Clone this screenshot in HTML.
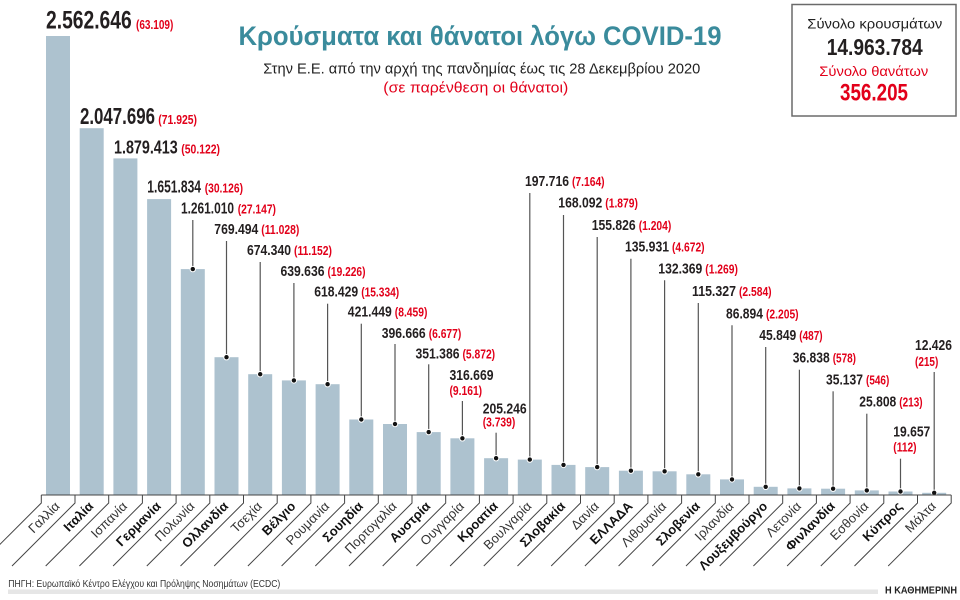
<!DOCTYPE html>
<html><head><meta charset="utf-8"><style>
html,body{margin:0;padding:0;background:#fff;}
svg{display:block;}
.n{font-family:"Liberation Sans Narrow","Liberation Sans",sans-serif;font-weight:bold;fill:#231f20;}
.r{font-family:"Liberation Sans Narrow","Liberation Sans",sans-serif;font-weight:bold;fill:#e2001a;}
.xl{font-family:"Liberation Sans","DejaVu Sans",sans-serif;font-size:13px;fill:#333;}
.xb{font-family:"Liberation Sans","DejaVu Sans",sans-serif;font-size:13px;font-weight:bold;fill:#111;}
</style></head><body>
<svg width="960" height="600" viewBox="0 0 960 600" xmlns="http://www.w3.org/2000/svg">
<rect width="960" height="600" fill="#fff"/>

<!-- Title -->
<text x="238.5" y="45" font-family="Liberation Sans, sans-serif" font-weight="bold" font-size="27" fill="#3a8b9c" textLength="483" lengthAdjust="spacingAndGlyphs">Κρούσματα και θάνατοι λόγω COVID-19</text>
<text x="263.3" y="73.3" font-family="Liberation Sans, sans-serif" font-size="15" fill="#222" textLength="437" lengthAdjust="spacingAndGlyphs">Στην Ε.Ε. από την αρχή της πανδημίας έως τις 28 Δεκεμβρίου 2020</text>
<text x="383.3" y="92.3" font-family="Liberation Sans, sans-serif" font-size="15" fill="#e2001a" textLength="185" lengthAdjust="spacingAndGlyphs">(σε παρένθεση οι θάνατοι)</text>

<!-- Totals box -->
<rect x="792" y="4.5" width="164" height="111.5" fill="#fff" stroke="#6a6a6a" stroke-width="1.5"/>
<text x="807.3" y="28.5" font-family="Liberation Sans, sans-serif" font-size="14" fill="#222" textLength="135" lengthAdjust="spacingAndGlyphs">Σύνολο κρουσμάτων</text>
<text class="n" x="826.7" y="55" font-size="23" textLength="96" lengthAdjust="spacingAndGlyphs">14.963.784</text>
<text x="819.3" y="76" font-family="Liberation Sans, sans-serif" font-size="14" fill="#e2001a" textLength="109" lengthAdjust="spacingAndGlyphs">Σύνολο θανάτων</text>
<text class="r" x="840" y="100.7" font-size="24" textLength="68" lengthAdjust="spacingAndGlyphs">356.205</text>

<!-- Bars -->
<g fill="#adc2cf">
<rect x="46" y="36" width="24" height="458.5"/>
<rect x="79.7" y="128.2" width="24" height="366.3"/>
<rect x="113.4" y="158.4" width="24" height="336.1"/>
<rect x="147.1" y="199.1" width="24" height="295.4"/>
<rect x="180.8" y="269.1" width="24" height="225.4"/>
<rect x="214.5" y="357.2" width="24" height="137.3"/>
<rect x="248.2" y="374.2" width="24" height="120.3"/>
<rect x="281.9" y="380.4" width="24" height="114.1"/>
<rect x="315.6" y="384.2" width="24" height="110.3"/>
<rect x="349.3" y="419.5" width="24" height="75"/>
<rect x="383" y="424" width="24" height="70.5"/>
<rect x="416.7" y="432.1" width="24" height="62.4"/>
<rect x="450.4" y="438.3" width="24" height="56.2"/>
<rect x="484.1" y="458.2" width="24" height="36.3"/>
<rect x="517.8" y="459.6" width="24" height="34.9"/>
<rect x="551.5" y="464.9" width="24" height="29.6"/>
<rect x="585.2" y="467.1" width="24" height="27.4"/>
<rect x="618.9" y="470.7" width="24" height="23.8"/>
<rect x="652.6" y="471.3" width="24" height="23.2"/>
<rect x="686.3" y="474.3" width="24" height="20.2"/>
<rect x="720" y="479.4" width="24" height="15.1"/>
<rect x="753.7" y="486.8" width="24" height="7.7"/>
<rect x="787.4" y="488.4" width="24" height="6.1"/>
<rect x="821.1" y="488.7" width="24" height="5.8"/>
<rect x="854.8" y="490.4" width="24" height="4.1"/>
<rect x="888.5" y="491.5" width="24" height="3"/>
<rect x="922.2" y="492.8" width="24" height="1.7"/>
</g>

<!-- Leader lines -->
<g stroke="#555" stroke-width="1.2">
<line x1="192.8" y1="220" x2="192.8" y2="269.1"/>
<line x1="226.5" y1="241" x2="226.5" y2="357.2"/>
<line x1="260.2" y1="262" x2="260.2" y2="374.2"/>
<line x1="293.9" y1="283" x2="293.9" y2="380.4"/>
<line x1="327.6" y1="303.7" x2="327.6" y2="384.2"/>
<line x1="361.3" y1="323.7" x2="361.3" y2="419.5"/>
<line x1="395" y1="344" x2="395" y2="424"/>
<line x1="428.7" y1="364.3" x2="428.7" y2="432.1"/>
<line x1="462.4" y1="401" x2="462.4" y2="438.3"/>
<line x1="496.1" y1="432.7" x2="496.1" y2="458.2"/>
<line x1="529.8" y1="193" x2="529.8" y2="459.6"/>
<line x1="563.5" y1="215" x2="563.5" y2="464.9"/>
<line x1="597.2" y1="237" x2="597.2" y2="467.1"/>
<line x1="630.9" y1="258.7" x2="630.9" y2="470.7"/>
<line x1="664.6" y1="280.3" x2="664.6" y2="471.3"/>
<line x1="698.3" y1="303" x2="698.3" y2="474.3"/>
<line x1="732" y1="325.3" x2="732" y2="479.4"/>
<line x1="765.7" y1="347" x2="765.7" y2="486.8"/>
<line x1="799.4" y1="369.7" x2="799.4" y2="488.4"/>
<line x1="833.1" y1="391.3" x2="833.1" y2="488.7"/>
<line x1="866.8" y1="413.7" x2="866.8" y2="490.4"/>
<line x1="900.5" y1="458.7" x2="900.5" y2="491.5"/>
<line x1="934.2" y1="372" x2="934.2" y2="492.8"/>
</g>
<g fill="#111" stroke="#fff" stroke-width="1">
<circle cx="192.8" cy="269.1" r="2.7"/>
<circle cx="226.5" cy="357.2" r="2.7"/>
<circle cx="260.2" cy="374.2" r="2.7"/>
<circle cx="293.9" cy="380.4" r="2.7"/>
<circle cx="327.6" cy="384.2" r="2.7"/>
<circle cx="361.3" cy="419.5" r="2.7"/>
<circle cx="395" cy="424" r="2.7"/>
<circle cx="428.7" cy="432.1" r="2.7"/>
<circle cx="462.4" cy="438.3" r="2.7"/>
<circle cx="496.1" cy="458.2" r="2.7"/>
<circle cx="529.8" cy="459.6" r="2.7"/>
<circle cx="563.5" cy="464.9" r="2.7"/>
<circle cx="597.2" cy="467.1" r="2.7"/>
<circle cx="630.9" cy="470.7" r="2.7"/>
<circle cx="664.6" cy="471.3" r="2.7"/>
<circle cx="698.3" cy="474.3" r="2.7"/>
<circle cx="732" cy="479.4" r="2.7"/>
<circle cx="765.7" cy="486.8" r="2.7"/>
<circle cx="799.4" cy="488.4" r="2.7"/>
<circle cx="833.1" cy="488.7" r="2.7"/>
<circle cx="866.8" cy="490.4" r="2.7"/>
<circle cx="900.5" cy="491.5" r="2.7"/>
<circle cx="934.2" cy="492.8" r="2.7"/>
</g>

<!-- Value labels -->
<text class="n" x="46" y="28.5" font-size="25" textLength="85.7" lengthAdjust="spacingAndGlyphs">2.562.646</text>
<text class="r" x="136" y="29" font-size="13" textLength="37.3" lengthAdjust="spacingAndGlyphs">(63.109)</text>
<text class="n" x="80" y="124" font-size="23" textLength="75" lengthAdjust="spacingAndGlyphs">2.047.696</text>
<text class="r" x="158.3" y="124" font-size="13" textLength="38.7" lengthAdjust="spacingAndGlyphs">(71.925)</text>
<text class="n" x="114" y="153.3" font-size="18.5" textLength="63.7" lengthAdjust="spacingAndGlyphs">1.879.413</text>
<text class="r" x="181.3" y="153.3" font-size="13" textLength="38.7" lengthAdjust="spacingAndGlyphs">(50.122)</text>
<text class="n" x="147.3" y="192.7" font-size="17.5" textLength="53.7" lengthAdjust="spacingAndGlyphs">1.651.834</text>
<text class="r" x="204.7" y="192.7" font-size="13" textLength="38.3" lengthAdjust="spacingAndGlyphs">(30.126)</text>
<text class="n" x="181" y="213.3" font-size="16" textLength="53" lengthAdjust="spacingAndGlyphs">1.261.010</text>
<text class="r" x="237.7" y="213.3" font-size="12.5" textLength="38.3" lengthAdjust="spacingAndGlyphs">(27.147)</text>

<g font-size="15">
<text class="n" x="214.3" y="234" textLength="44" lengthAdjust="spacingAndGlyphs">769.494</text>
<text class="n" x="247" y="255" textLength="44" lengthAdjust="spacingAndGlyphs">674.340</text>
<text class="n" x="280.5" y="276" textLength="44" lengthAdjust="spacingAndGlyphs">639.636</text>
<text class="n" x="314.2" y="296.7" textLength="44" lengthAdjust="spacingAndGlyphs">618.429</text>
<text class="n" x="347.8" y="316.7" textLength="44" lengthAdjust="spacingAndGlyphs">421.449</text>
<text class="n" x="381.7" y="338" textLength="44" lengthAdjust="spacingAndGlyphs">396.666</text>
<text class="n" x="415.5" y="358.3" textLength="44" lengthAdjust="spacingAndGlyphs">351.386</text>
<text class="n" x="449.5" y="380" textLength="44" lengthAdjust="spacingAndGlyphs">316.669</text>
<text class="n" x="482.7" y="413.3" textLength="44" lengthAdjust="spacingAndGlyphs">205.246</text>
<text class="n" x="525" y="186" textLength="44" lengthAdjust="spacingAndGlyphs">197.716</text>
<text class="n" x="558.3" y="207.7" textLength="44" lengthAdjust="spacingAndGlyphs">168.092</text>
<text class="n" x="591.7" y="230" textLength="44" lengthAdjust="spacingAndGlyphs">155.826</text>
<text class="n" x="625" y="251.7" textLength="44" lengthAdjust="spacingAndGlyphs">135.931</text>
<text class="n" x="658.3" y="273.3" textLength="44" lengthAdjust="spacingAndGlyphs">132.369</text>
<text class="n" x="692" y="296" textLength="44" lengthAdjust="spacingAndGlyphs">115.327</text>
<text class="n" x="726" y="318.3" textLength="37" lengthAdjust="spacingAndGlyphs">86.894</text>
<text class="n" x="759.3" y="340" textLength="37" lengthAdjust="spacingAndGlyphs">45.849</text>
<text class="n" x="792.7" y="362.7" textLength="37" lengthAdjust="spacingAndGlyphs">36.838</text>
<text class="n" x="826" y="384.3" textLength="37" lengthAdjust="spacingAndGlyphs">35.137</text>
<text class="n" x="859.3" y="406.7" textLength="37" lengthAdjust="spacingAndGlyphs">25.808</text>
<text class="n" x="893.3" y="436.7" textLength="37" lengthAdjust="spacingAndGlyphs">19.657</text>
<text class="n" x="915" y="350" textLength="37" lengthAdjust="spacingAndGlyphs">12.426</text>
</g>
<g font-size="12.5">
<text class="r" x="261.3" y="234" textLength="38" lengthAdjust="spacingAndGlyphs">(11.028)</text>
<text class="r" x="294" y="255" textLength="38" lengthAdjust="spacingAndGlyphs">(11.152)</text>
<text class="r" x="327.5" y="276" textLength="38" lengthAdjust="spacingAndGlyphs">(19.226)</text>
<text class="r" x="361.2" y="296.7" textLength="38" lengthAdjust="spacingAndGlyphs">(15.334)</text>
<text class="r" x="394.8" y="316.7" textLength="32.6" lengthAdjust="spacingAndGlyphs">(8.459)</text>
<text class="r" x="428.7" y="338" textLength="32.6" lengthAdjust="spacingAndGlyphs">(6.677)</text>
<text class="r" x="462.5" y="358.3" textLength="32.6" lengthAdjust="spacingAndGlyphs">(5.872)</text>
<text class="r" x="449.5" y="395" textLength="32.6" lengthAdjust="spacingAndGlyphs">(9.161)</text>
<text class="r" x="482.7" y="426.7" textLength="32.6" lengthAdjust="spacingAndGlyphs">(3.739)</text>
<text class="r" x="572" y="186" textLength="32.6" lengthAdjust="spacingAndGlyphs">(7.164)</text>
<text class="r" x="605.3" y="207.7" textLength="32.6" lengthAdjust="spacingAndGlyphs">(1.879)</text>
<text class="r" x="638.7" y="230" textLength="32.6" lengthAdjust="spacingAndGlyphs">(1.204)</text>
<text class="r" x="672" y="251.7" textLength="32.6" lengthAdjust="spacingAndGlyphs">(4.672)</text>
<text class="r" x="705.3" y="273.3" textLength="32.6" lengthAdjust="spacingAndGlyphs">(1.269)</text>
<text class="r" x="739" y="296" textLength="32.6" lengthAdjust="spacingAndGlyphs">(2.584)</text>
<text class="r" x="766" y="318.3" textLength="32.6" lengthAdjust="spacingAndGlyphs">(2.205)</text>
<text class="r" x="799.3" y="340" textLength="23.3" lengthAdjust="spacingAndGlyphs">(487)</text>
<text class="r" x="832.7" y="362.7" textLength="23.3" lengthAdjust="spacingAndGlyphs">(578)</text>
<text class="r" x="866" y="384.3" textLength="23.3" lengthAdjust="spacingAndGlyphs">(546)</text>
<text class="r" x="899.3" y="406.7" textLength="23.3" lengthAdjust="spacingAndGlyphs">(213)</text>
<text class="r" x="893.3" y="451.7" textLength="23.3" lengthAdjust="spacingAndGlyphs">(112)</text>
<text class="r" x="915" y="366" textLength="23.3" lengthAdjust="spacingAndGlyphs">(215)</text>
</g>

<!-- Axis -->
<g stroke="#444" stroke-width="1" fill="none">
<line x1="41.3" y1="495" x2="951.2" y2="495"/>
<path d="M41.3 495V503L-21.7 566M75 495V503L12 566M108.7 495V503L45.7 566M142.4 495V503L79.4 566M176.1 495V503L113.1 566M209.8 495V503L146.8 566M243.5 495V503L180.5 566M277.2 495V503L214.2 566M310.9 495V503L247.9 566M344.6 495V503L281.6 566M378.3 495V503L315.3 566M412 495V503L349 566M445.7 495V503L382.7 566M479.4 495V503L416.4 566M513.1 495V503L450.1 566M546.8 495V503L483.8 566M580.5 495V503L517.5 566M614.2 495V503L551.2 566M647.9 495V503L584.9 566M681.6 495V503L618.6 566M715.3 495V503L652.3 566M749 495V503L686 566M782.7 495V503L719.7 566M816.4 495V503L753.4 566M850.1 495V503L787.1 566M883.8 495V503L820.8 566M917.5 495V503L854.5 566M951.2 495V503L888.2 566"/>
</g>

<!-- Country labels -->
<g text-anchor="end">
<text class="xl" transform="translate(60.5,507) rotate(-45)">Γαλλία</text>
<text class="xb" transform="translate(94.2,507) rotate(-45)">Ιταλία</text>
<text class="xl" transform="translate(127.9,507) rotate(-45)">Ισπανία</text>
<text class="xb" transform="translate(161.6,507) rotate(-45)">Γερμανία</text>
<text class="xl" transform="translate(195.3,507) rotate(-45)">Πολωνία</text>
<text class="xb" transform="translate(229,507) rotate(-45)">Ολλανδία</text>
<text class="xl" transform="translate(262.7,507) rotate(-45)">Τσεχία</text>
<text class="xb" transform="translate(296.4,507) rotate(-45)">Βέλγιο</text>
<text class="xl" transform="translate(330.1,507) rotate(-45)">Ρουμανία</text>
<text class="xb" transform="translate(363.8,507) rotate(-45)">Σουηδία</text>
<text class="xl" transform="translate(397.5,507) rotate(-45)">Πορτογαλία</text>
<text class="xb" transform="translate(431.2,507) rotate(-45)">Αυστρία</text>
<text class="xl" transform="translate(464.9,507) rotate(-45)">Ουγγαρία</text>
<text class="xb" transform="translate(498.6,507) rotate(-45)">Κροατία</text>
<text class="xl" transform="translate(532.3,507) rotate(-45)">Βουλγαρία</text>
<text class="xb" transform="translate(566,507) rotate(-45)">Σλοβακία</text>
<text class="xl" transform="translate(599.7,507) rotate(-45)">Δανία</text>
<text class="xb" transform="translate(633.4,507) rotate(-45)">ΕΛΛΑΔΑ</text>
<text class="xl" transform="translate(667.1,507) rotate(-45)">Λιθουανία</text>
<text class="xb" transform="translate(700.8,507) rotate(-45)">Σλοβενία</text>
<text class="xl" transform="translate(734.5,507) rotate(-45)">Ιρλανδία</text>
<text class="xb" transform="translate(768.2,507) rotate(-45)">Λουξεμβούργο</text>
<text class="xl" transform="translate(801.9,507) rotate(-45)">Λετονία</text>
<text class="xb" transform="translate(835.6,507) rotate(-45)">Φινλανδία</text>
<text class="xl" transform="translate(869.3,507) rotate(-45)">Εσθονία</text>
<text class="xb" transform="translate(903,507) rotate(-45)">Κύπρος</text>
<text class="xl" transform="translate(936.7,507) rotate(-45)">Μάλτα</text>
</g>

<!-- Footer -->
<text x="8.3" y="587" font-family="Liberation Sans, sans-serif" font-size="10" fill="#333" textLength="272" lengthAdjust="spacingAndGlyphs">ΠΗΓΗ: Ευρωπαϊκό Κέντρο Ελέγχου και Πρόληψης Νοσημάτων (ECDC)</text>
<rect x="8" y="589.5" width="870" height="4.5" fill="#e6e6e6"/>
<text x="885" y="593.3" font-family="Liberation Sans, sans-serif" font-weight="bold" font-size="10.5" fill="#222" textLength="72" lengthAdjust="spacingAndGlyphs">Η ΚΑΘΗΜΕΡΙΝΗ</text>
</svg>
</body></html>
